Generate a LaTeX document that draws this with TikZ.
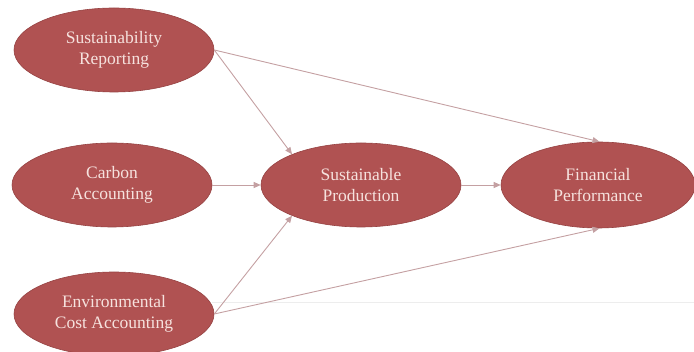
\documentclass[tikz,border=0pt]{standalone}
\usepackage{fontspec}
\setmainfont{Liberation Serif}
\usetikzlibrary{shapes.geometric,arrows.meta}
\definecolor{constructfill}{RGB}{176,82,82}
\definecolor{constructedge}{RGB}{150,66,66}
\definecolor{constructtext}{RGB}{246,226,222}
\definecolor{pathline}{RGB}{196,160,162}
\begin{document}
\begin{tikzpicture}[x=1pt,y=-1pt,
  construct/.style={ellipse, draw=constructedge, line width=0.6pt, fill=constructfill,
    minimum width=200pt, minimum height=84pt, inner sep=0pt, align=center,
    text=constructtext, font=\fontsize{17.5}{21}\selectfont},
  path/.style={draw=pathline, line width=0.9pt,
    -{Triangle[length=7pt,width=6pt]}}]
  \useasboundingbox (0,0) rectangle (694,352);
  % faint rule across the lower part
  \draw[black!7, line width=0.6pt] (212,302) -- (694,302);
  % constructs
  \node[construct] (sr)  at (114,50)  {Sustainability\\Reporting};
  \node[construct] (ca)  at (112,185) {Carbon\\Accounting};
  \node[construct] (eca) at (114,314) {Environmental\\Cost Accounting};
  \node[construct] (sp)  at (361,185) {Sustainable\\Production};
  \node[construct, minimum width=194pt, minimum height=86pt] (fp) at (598,185) {Financial\\Performance};
  % paths
  \draw[path] (sr.east) -- (sp.156);
  \draw[path] (sr.east) -- (fp.88);
  \draw[path] (ca.east) -- (sp.west);
  \draw[path] (eca.east) -- (sp.204);
  \draw[path] (eca.east) -- (fp.272);
  \draw[path] (sp.east) -- (fp.west);
\end{tikzpicture}
\end{document}
